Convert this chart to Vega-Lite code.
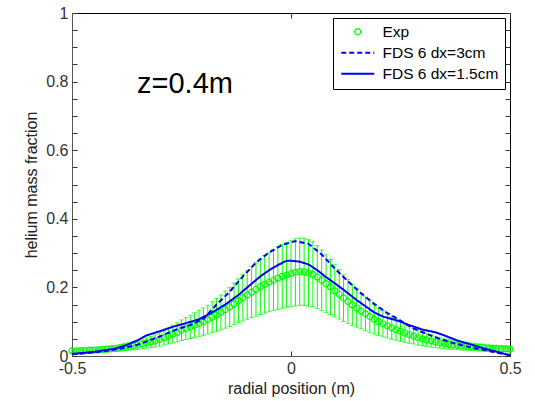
{
"$schema": "https://vega.github.io/schema/vega-lite/v6.json",
"width": 438, "height": 343,
"autosize": {"type": "none"},
"padding": {"left": 72, "top": 13, "right": 25, "bottom": 45},
"background": "white",
"config": {
  "view": {"stroke": "black", "strokeWidth": 1},
  "font": "Liberation Sans",
  "axis": {"labelFont": "Liberation Sans", "titleFont": "Liberation Sans", "labelFontSize": 16, "titleFontSize": 16, "titleFontWeight": "normal", "labelColor": "#333", "titleColor": "#222", "domainColor": "#555", "tickColor": "#333", "grid": false, "tickSize": -5, "labelPadding": 9},
  "legend": {"labelFont": "Liberation Sans", "labelFontSize": 15.5, "labelColor": "black", "orient": "top-right", "offset": 5, "padding": 6, "strokeColor": "black", "fillColor": "white", "cornerRadius": 0, "rowPadding": 4, "labelOffset": 28, "symbolSize": 121, "symbolStrokeWidth": 2, "title": null}
},
"datasets": {
"exp": [
{"x":-0.50,"m":0.015,"lo":0.009,"hi":0.021},
{"x":-0.49,"m":0.015,"lo":0.009,"hi":0.021},
{"x":-0.48,"m":0.016,"lo":0.010,"hi":0.022},
{"x":-0.47,"m":0.016,"lo":0.010,"hi":0.022},
{"x":-0.46,"m":0.017,"lo":0.010,"hi":0.024},
{"x":-0.45,"m":0.017,"lo":0.010,"hi":0.024},
{"x":-0.44,"m":0.018,"lo":0.011,"hi":0.025},
{"x":-0.43,"m":0.019,"lo":0.011,"hi":0.027},
{"x":-0.42,"m":0.020,"lo":0.012,"hi":0.028},
{"x":-0.41,"m":0.021,"lo":0.013,"hi":0.029},
{"x":-0.40,"m":0.022,"lo":0.013,"hi":0.031},
{"x":-0.39,"m":0.024,"lo":0.014,"hi":0.034},
{"x":-0.38,"m":0.026,"lo":0.016,"hi":0.036},
{"x":-0.37,"m":0.028,"lo":0.017,"hi":0.039},
{"x":-0.36,"m":0.030,"lo":0.018,"hi":0.042},
{"x":-0.35,"m":0.032,"lo":0.019,"hi":0.045},
{"x":-0.34,"m":0.035,"lo":0.021,"hi":0.049},
{"x":-0.33,"m":0.038,"lo":0.023,"hi":0.053},
{"x":-0.32,"m":0.041,"lo":0.025,"hi":0.057},
{"x":-0.31,"m":0.044,"lo":0.026,"hi":0.062},
{"x":-0.30,"m":0.048,"lo":0.029,"hi":0.067},
{"x":-0.29,"m":0.053,"lo":0.032,"hi":0.074},
{"x":-0.28,"m":0.058,"lo":0.035,"hi":0.081},
{"x":-0.27,"m":0.064,"lo":0.038,"hi":0.090},
{"x":-0.26,"m":0.069,"lo":0.041,"hi":0.097},
{"x":-0.25,"m":0.075,"lo":0.045,"hi":0.105},
{"x":-0.24,"m":0.080,"lo":0.048,"hi":0.112},
{"x":-0.23,"m":0.085,"lo":0.051,"hi":0.119},
{"x":-0.22,"m":0.090,"lo":0.054,"hi":0.126},
{"x":-0.21,"m":0.095,"lo":0.057,"hi":0.133},
{"x":-0.20,"m":0.100,"lo":0.060,"hi":0.140},
{"x":-0.19,"m":0.106,"lo":0.064,"hi":0.148},
{"x":-0.18,"m":0.113,"lo":0.068,"hi":0.158},
{"x":-0.17,"m":0.120,"lo":0.072,"hi":0.168},
{"x":-0.16,"m":0.127,"lo":0.076,"hi":0.178},
{"x":-0.15,"m":0.135,"lo":0.081,"hi":0.189},
{"x":-0.14,"m":0.143,"lo":0.086,"hi":0.200},
{"x":-0.13,"m":0.152,"lo":0.091,"hi":0.213},
{"x":-0.12,"m":0.161,"lo":0.097,"hi":0.225},
{"x":-0.11,"m":0.170,"lo":0.102,"hi":0.238},
{"x":-0.10,"m":0.178,"lo":0.107,"hi":0.249},
{"x":-0.09,"m":0.186,"lo":0.112,"hi":0.260},
{"x":-0.08,"m":0.194,"lo":0.116,"hi":0.272},
{"x":-0.07,"m":0.202,"lo":0.121,"hi":0.283},
{"x":-0.06,"m":0.209,"lo":0.125,"hi":0.293},
{"x":-0.05,"m":0.215,"lo":0.129,"hi":0.301},
{"x":-0.04,"m":0.221,"lo":0.133,"hi":0.309},
{"x":-0.03,"m":0.227,"lo":0.136,"hi":0.318},
{"x":-0.02,"m":0.232,"lo":0.139,"hi":0.325},
{"x":-0.01,"m":0.236,"lo":0.142,"hi":0.330},
{"x":0.00,"m":0.240,"lo":0.144,"hi":0.336},
{"x":0.01,"m":0.244,"lo":0.146,"hi":0.342},
{"x":0.02,"m":0.246,"lo":0.148,"hi":0.344},
{"x":0.03,"m":0.245,"lo":0.147,"hi":0.343},
{"x":0.04,"m":0.242,"lo":0.145,"hi":0.339},
{"x":0.05,"m":0.238,"lo":0.143,"hi":0.333},
{"x":0.06,"m":0.230,"lo":0.138,"hi":0.322},
{"x":0.07,"m":0.221,"lo":0.133,"hi":0.309},
{"x":0.08,"m":0.211,"lo":0.127,"hi":0.295},
{"x":0.09,"m":0.201,"lo":0.121,"hi":0.281},
{"x":0.10,"m":0.190,"lo":0.114,"hi":0.266},
{"x":0.11,"m":0.180,"lo":0.108,"hi":0.252},
{"x":0.12,"m":0.169,"lo":0.101,"hi":0.237},
{"x":0.13,"m":0.159,"lo":0.095,"hi":0.223},
{"x":0.14,"m":0.149,"lo":0.089,"hi":0.209},
{"x":0.15,"m":0.140,"lo":0.084,"hi":0.196},
{"x":0.16,"m":0.131,"lo":0.079,"hi":0.183},
{"x":0.17,"m":0.123,"lo":0.074,"hi":0.172},
{"x":0.18,"m":0.115,"lo":0.069,"hi":0.161},
{"x":0.19,"m":0.107,"lo":0.064,"hi":0.150},
{"x":0.20,"m":0.100,"lo":0.060,"hi":0.140},
{"x":0.21,"m":0.094,"lo":0.056,"hi":0.132},
{"x":0.22,"m":0.088,"lo":0.053,"hi":0.123},
{"x":0.23,"m":0.082,"lo":0.049,"hi":0.115},
{"x":0.24,"m":0.077,"lo":0.046,"hi":0.108},
{"x":0.25,"m":0.072,"lo":0.043,"hi":0.101},
{"x":0.26,"m":0.067,"lo":0.040,"hi":0.094},
{"x":0.27,"m":0.062,"lo":0.037,"hi":0.087},
{"x":0.28,"m":0.058,"lo":0.035,"hi":0.081},
{"x":0.29,"m":0.054,"lo":0.032,"hi":0.076},
{"x":0.30,"m":0.050,"lo":0.030,"hi":0.070},
{"x":0.31,"m":0.047,"lo":0.028,"hi":0.066},
{"x":0.32,"m":0.044,"lo":0.026,"hi":0.062},
{"x":0.33,"m":0.041,"lo":0.025,"hi":0.057},
{"x":0.34,"m":0.038,"lo":0.023,"hi":0.053},
{"x":0.35,"m":0.036,"lo":0.022,"hi":0.050},
{"x":0.36,"m":0.034,"lo":0.020,"hi":0.048},
{"x":0.37,"m":0.032,"lo":0.019,"hi":0.045},
{"x":0.38,"m":0.031,"lo":0.019,"hi":0.043},
{"x":0.39,"m":0.029,"lo":0.017,"hi":0.041},
{"x":0.40,"m":0.028,"lo":0.017,"hi":0.039},
{"x":0.41,"m":0.027,"lo":0.016,"hi":0.038},
{"x":0.42,"m":0.026,"lo":0.016,"hi":0.036},
{"x":0.43,"m":0.025,"lo":0.015,"hi":0.035},
{"x":0.44,"m":0.024,"lo":0.014,"hi":0.034},
{"x":0.45,"m":0.023,"lo":0.014,"hi":0.032},
{"x":0.46,"m":0.022,"lo":0.013,"hi":0.031},
{"x":0.47,"m":0.022,"lo":0.013,"hi":0.031},
{"x":0.48,"m":0.021,"lo":0.013,"hi":0.029},
{"x":0.49,"m":0.021,"lo":0.013,"hi":0.029},
{"x":0.50,"m":0.020,"lo":0.012,"hi":0.028}
],
"fds": [
{"x":-0.50,"y":0.005,"series":"FDS 6 dx=3cm"},
{"x":-0.47,"y":0.008,"series":"FDS 6 dx=3cm"},
{"x":-0.44,"y":0.012,"series":"FDS 6 dx=3cm"},
{"x":-0.41,"y":0.017,"series":"FDS 6 dx=3cm"},
{"x":-0.38,"y":0.024,"series":"FDS 6 dx=3cm"},
{"x":-0.35,"y":0.033,"series":"FDS 6 dx=3cm"},
{"x":-0.32,"y":0.047,"series":"FDS 6 dx=3cm"},
{"x":-0.29,"y":0.062,"series":"FDS 6 dx=3cm"},
{"x":-0.26,"y":0.078,"series":"FDS 6 dx=3cm"},
{"x":-0.23,"y":0.090,"series":"FDS 6 dx=3cm"},
{"x":-0.20,"y":0.108,"series":"FDS 6 dx=3cm"},
{"x":-0.17,"y":0.150,"series":"FDS 6 dx=3cm"},
{"x":-0.14,"y":0.187,"series":"FDS 6 dx=3cm"},
{"x":-0.11,"y":0.232,"series":"FDS 6 dx=3cm"},
{"x":-0.08,"y":0.272,"series":"FDS 6 dx=3cm"},
{"x":-0.05,"y":0.302,"series":"FDS 6 dx=3cm"},
{"x":-0.02,"y":0.324,"series":"FDS 6 dx=3cm"},
{"x":0.01,"y":0.335,"series":"FDS 6 dx=3cm"},
{"x":0.04,"y":0.327,"series":"FDS 6 dx=3cm"},
{"x":0.07,"y":0.296,"series":"FDS 6 dx=3cm"},
{"x":0.10,"y":0.255,"series":"FDS 6 dx=3cm"},
{"x":0.13,"y":0.218,"series":"FDS 6 dx=3cm"},
{"x":0.16,"y":0.183,"series":"FDS 6 dx=3cm"},
{"x":0.19,"y":0.152,"series":"FDS 6 dx=3cm"},
{"x":0.22,"y":0.125,"series":"FDS 6 dx=3cm"},
{"x":0.25,"y":0.103,"series":"FDS 6 dx=3cm"},
{"x":0.28,"y":0.080,"series":"FDS 6 dx=3cm"},
{"x":0.31,"y":0.064,"series":"FDS 6 dx=3cm"},
{"x":0.34,"y":0.050,"series":"FDS 6 dx=3cm"},
{"x":0.37,"y":0.038,"series":"FDS 6 dx=3cm"},
{"x":0.40,"y":0.028,"series":"FDS 6 dx=3cm"},
{"x":0.43,"y":0.020,"series":"FDS 6 dx=3cm"},
{"x":0.46,"y":0.012,"series":"FDS 6 dx=3cm"},
{"x":0.49,"y":0.005,"series":"FDS 6 dx=3cm"},
{"x":0.50,"y":0.003,"series":"FDS 6 dx=3cm"},
{"x":-0.50,"y":0.006,"series":"FDS 6 dx=1.5cm"},
{"x":-0.45,"y":0.012,"series":"FDS 6 dx=1.5cm"},
{"x":-0.40,"y":0.022,"series":"FDS 6 dx=1.5cm"},
{"x":-0.375,"y":0.032,"series":"FDS 6 dx=1.5cm"},
{"x":-0.35,"y":0.046,"series":"FDS 6 dx=1.5cm"},
{"x":-0.33,"y":0.060,"series":"FDS 6 dx=1.5cm"},
{"x":-0.30,"y":0.072,"series":"FDS 6 dx=1.5cm"},
{"x":-0.27,"y":0.085,"series":"FDS 6 dx=1.5cm"},
{"x":-0.25,"y":0.092,"series":"FDS 6 dx=1.5cm"},
{"x":-0.21,"y":0.107,"series":"FDS 6 dx=1.5cm"},
{"x":-0.18,"y":0.127,"series":"FDS 6 dx=1.5cm"},
{"x":-0.15,"y":0.150,"series":"FDS 6 dx=1.5cm"},
{"x":-0.12,"y":0.178,"series":"FDS 6 dx=1.5cm"},
{"x":-0.10,"y":0.200,"series":"FDS 6 dx=1.5cm"},
{"x":-0.07,"y":0.232,"series":"FDS 6 dx=1.5cm"},
{"x":-0.05,"y":0.250,"series":"FDS 6 dx=1.5cm"},
{"x":-0.03,"y":0.265,"series":"FDS 6 dx=1.5cm"},
{"x":-0.01,"y":0.278,"series":"FDS 6 dx=1.5cm"},
{"x":0.00,"y":0.278,"series":"FDS 6 dx=1.5cm"},
{"x":0.02,"y":0.275,"series":"FDS 6 dx=1.5cm"},
{"x":0.04,"y":0.267,"series":"FDS 6 dx=1.5cm"},
{"x":0.06,"y":0.250,"series":"FDS 6 dx=1.5cm"},
{"x":0.08,"y":0.230,"series":"FDS 6 dx=1.5cm"},
{"x":0.10,"y":0.212,"series":"FDS 6 dx=1.5cm"},
{"x":0.12,"y":0.193,"series":"FDS 6 dx=1.5cm"},
{"x":0.15,"y":0.163,"series":"FDS 6 dx=1.5cm"},
{"x":0.17,"y":0.145,"series":"FDS 6 dx=1.5cm"},
{"x":0.19,"y":0.127,"series":"FDS 6 dx=1.5cm"},
{"x":0.21,"y":0.115,"series":"FDS 6 dx=1.5cm"},
{"x":0.23,"y":0.108,"series":"FDS 6 dx=1.5cm"},
{"x":0.25,"y":0.100,"series":"FDS 6 dx=1.5cm"},
{"x":0.27,"y":0.090,"series":"FDS 6 dx=1.5cm"},
{"x":0.30,"y":0.077,"series":"FDS 6 dx=1.5cm"},
{"x":0.33,"y":0.069,"series":"FDS 6 dx=1.5cm"},
{"x":0.35,"y":0.060,"series":"FDS 6 dx=1.5cm"},
{"x":0.38,"y":0.045,"series":"FDS 6 dx=1.5cm"},
{"x":0.41,"y":0.034,"series":"FDS 6 dx=1.5cm"},
{"x":0.44,"y":0.022,"series":"FDS 6 dx=1.5cm"},
{"x":0.47,"y":0.012,"series":"FDS 6 dx=1.5cm"},
{"x":0.50,"y":0.002,"series":"FDS 6 dx=1.5cm"}
],
"label": [{"x": -0.242, "y": 0.767, "t": "z=0.4m"}]
},
"layer": [
{
  "data": {"name": "exp"},
  "mark": {"type": "rule", "color": "#00ff00", "strokeWidth": 1},
  "encoding": {
    "x": {"field": "x", "type": "quantitative", "scale": {"domain": [-0.5, 0.5], "nice": false, "zero": false},
      "axis": {"orient": "bottom", "values": [-0.5, 0, 0.5], "labelExpr": "'' + datum.value", "title": "radial position (m)", "titlePadding": 4, "labelFlush": false}},
    "y": {"field": "lo", "type": "quantitative", "scale": {"domain": [0, 1], "nice": false},
      "axis": {"orient": "left", "values": [0,0.05,0.1,0.15,0.2,0.25,0.3,0.35,0.4,0.45,0.5,0.55,0.6,0.65,0.7,0.75,0.8,0.85,0.9,0.95,1], "labelExpr": "abs(datum.value*5 - round(datum.value*5)) < 0.001 ? '' + datum.value : ''", "title": "helium mass fraction", "titlePadding": 6, "labelFlush": false}},
    "y2": {"field": "hi"}
  }
},
{
  "data": {"name": "exp"},
  "mark": {"type": "tick", "orient": "horizontal", "color": "#00ff00", "size": 5, "thickness": 1},
  "encoding": {
    "x": {"field": "x", "type": "quantitative", "axis": null},
    "y": {"field": "hi", "type": "quantitative", "axis": null}
  }
},
{
  "data": {"name": "exp"},
  "mark": {"type": "tick", "orient": "horizontal", "color": "#00ff00", "size": 5, "thickness": 1},
  "encoding": {
    "x": {"field": "x", "type": "quantitative", "axis": null},
    "y": {"field": "lo", "type": "quantitative", "axis": null}
  }
},
{
  "data": {"name": "exp"},
  "mark": {"type": "point", "shape": "circle", "filled": false, "strokeWidth": 1.2, "opacity": 1, "color": "#00ff00", "size": 36},
  "encoding": {
    "x": {"field": "x", "type": "quantitative", "axis": {"orient": "top", "values": [-0.5, 0, 0.5], "labels": false, "title": null, "domain": false}},
    "y": {"field": "m", "type": "quantitative", "axis": {"orient": "right", "values": [0,0.05,0.1,0.15,0.2,0.25,0.3,0.35,0.4,0.45,0.5,0.55,0.6,0.65,0.7,0.75,0.8,0.85,0.9,0.95,1], "labels": false, "title": null, "domain": false}}
  }
},
{
  "data": {"name": "fds"},
  "mark": {"type": "line", "strokeWidth": 2},
  "encoding": {
    "x": {"field": "x", "type": "quantitative", "axis": null},
    "y": {"field": "y", "type": "quantitative", "axis": null},
    "color": {"field": "series", "type": "nominal",
      "scale": {"domain": ["Exp", "FDS 6 dx=3cm", "FDS 6 dx=1.5cm"], "range": ["#00ff00", "#0000ff", "#0000ff"]},
      "legend": {"encode": {"symbols": {"update": {
        "shape": {"signal": "datum.value === 'Exp' ? 'M2.55,0A0.55,0.55,0,1,1,1.45,0A0.55,0.55,0,1,1,2.55,0Z' : 'M-1,0H5'"},
        "strokeWidth": {"signal": "datum.value === 'Exp' ? 1.3 : 2"},
        "fill": {"value": "transparent"}
      }}}}},
    "strokeDash": {"field": "series", "type": "nominal", "scale": {"domain": ["Exp", "FDS 6 dx=3cm", "FDS 6 dx=1.5cm"], "range": [[1, 0], [5, 3], [1, 0]]}}
  }
},
{
  "data": {"name": "label"},
  "mark": {"type": "text", "font": "Liberation Sans", "fontSize": 29, "align": "center", "baseline": "alphabetic", "color": "black"},
  "encoding": {
    "x": {"field": "x", "type": "quantitative", "axis": null},
    "y": {"field": "y", "type": "quantitative", "axis": null},
    "text": {"field": "t"}
  }
}
]
}
